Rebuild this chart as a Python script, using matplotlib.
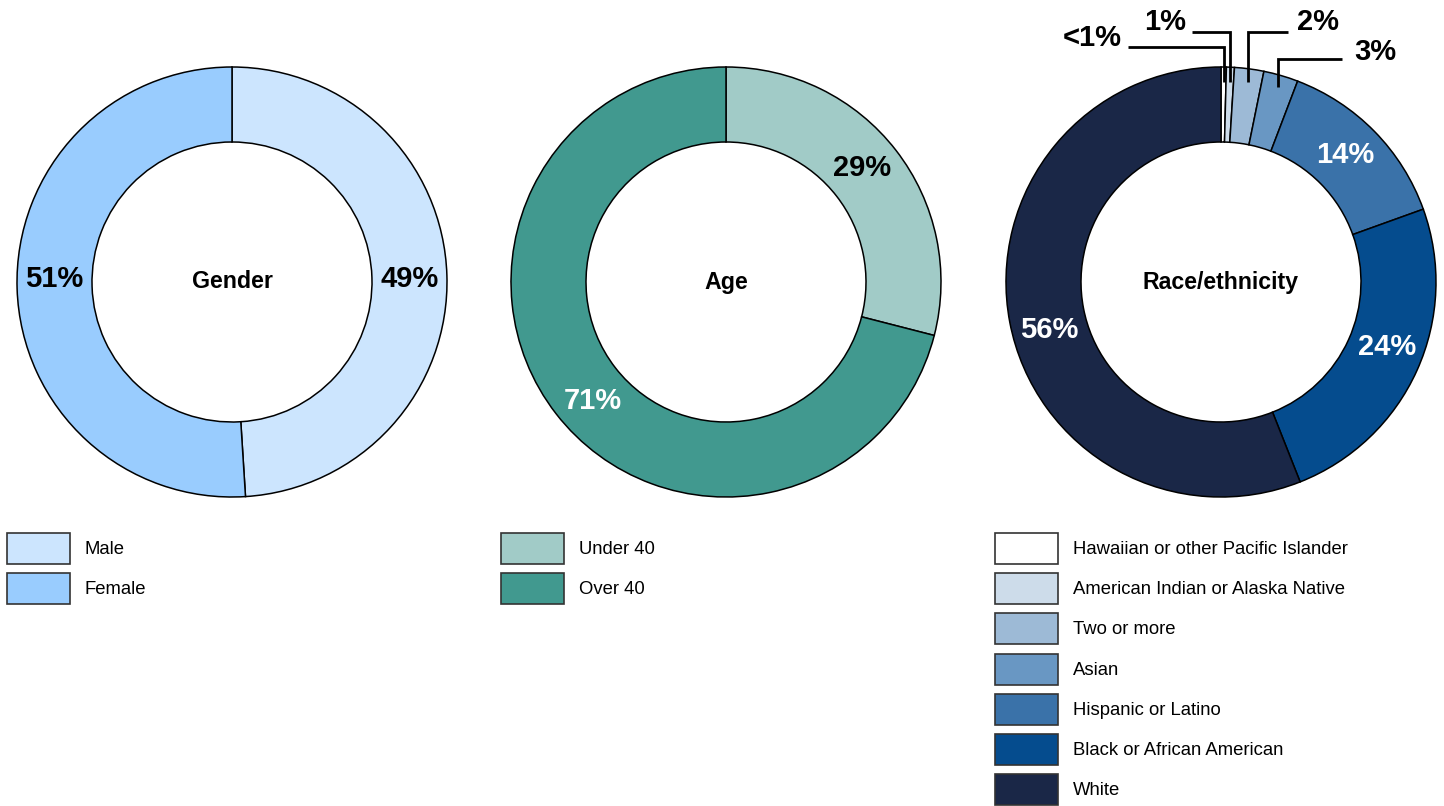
import numpy as np
import matplotlib
matplotlib.use("Agg")
import matplotlib.pyplot as plt
from matplotlib.patches import Rectangle

plt.rcParams['font.family'] = ['Liberation Sans', 'DejaVu Sans']

# ---- data ----
gender_labels = ["Male", "Female"]
gender_values = [49, 51]
gender_text = ["49%", "51%"]
gender_colors = ["#CCE5FE", "#99CCFE"]
gender_txtcol = ["black", "black"]

age_labels = ["Under 40", "Over 40"]
age_values = [29, 71]
age_text = ["29%", "71%"]
age_colors = ["#A1CBC7", "#41998F"]
age_txtcol = ["black", "white"]

race_labels = ["Hawaiian or other Pacific Islander", "American Indian or Alaska Native",
               "Two or more", "Asian", "Hispanic or Latino",
               "Black or African American", "White"]
race_values = [0.4, 0.6, 2.2, 2.6, 13.7, 24.5, 56.0]
race_text = ["<1%", "1%", "2%", "3%", "14%", "24%", "56%"]
race_colors = ["#FFFFFF", "#CDDCEA", "#9DBAD6", "#6997C3", "#3A72A9", "#054C8E", "#1A2747"]
race_txtcol = ["black", "black", "black", "black", "white", "white", "white"]

H = 806
W = 1444
fig = plt.figure(figsize=(14.44, 8.06), dpi=100)
ax = fig.add_axes([0, 0, 1, 1])

R_OUT = 215
R_IN = 140
CY = 282
PCT_FS = 21


def donut(cx, values, colors, title):
    ax.pie(values, colors=colors, startangle=90, counterclock=False,
           center=(cx, H - CY), radius=R_OUT, normalize=True,
           wedgeprops=dict(width=R_OUT - R_IN, edgecolor='black', linewidth=1.1))
    ax.text(cx, H - CY, title, ha='center', va='center', fontsize=16.7,
            fontweight='bold', color='black')
    tot = float(np.sum(values))
    cum = np.cumsum([0] + list(values)) / tot
    return cum


def pos(cx, frac, r):
    ang = 2 * np.pi * frac
    return cx + r * np.sin(ang), H - CY + r * np.cos(ang)


def labels(cx, cum, texts, tcols, idx, rmid=178, shifts=None):
    for i in idx:
        f = (cum[i] + cum[i + 1]) / 2
        if shifts and i in shifts:
            f += shifts[i]
        x, y = pos(cx, f, rmid)
        ax.text(x, y, texts[i], ha='center', va='center', fontsize=PCT_FS,
                fontweight='bold', color=tcols[i])


# Gender
cx_g = 232
cum = donut(cx_g, gender_values, gender_colors, "Gender")
labels(cx_g, cum, gender_text, gender_txtcol, [0, 1], shifts={0: 0.002, 1: 0.008})

# Age
cx_a = 726
cum = donut(cx_a, age_values, age_colors, "Age")
labels(cx_a, cum, age_text, age_txtcol, [0, 1], shifts={0: -0.006, 1: -0.011})

# Race
cx_r = 1221
cum = donut(cx_r, race_values, race_colors, "Race/ethnicity")
labels(cx_r, cum, race_text, race_txtcol, [4, 5, 6],
       shifts={4: -0.003, 5: -0.008, 6: -0.013})

# leader lines for small race slices
leaders = [
    (47, 1128, 82),
    (32, 1192, 82),
    (32, 1288, 82),
    (59, 1342, 87),
]
text_pos = [(1092, 38), (1165, 22), (1318, 22), (1375, 52)]
for i, (ly, lx, ybot) in enumerate(leaders):
    f = (cum[i] + cum[i + 1]) / 2
    xs, _ = pos(cx_r, f, R_OUT - 12)
    ax.plot([lx, xs, xs], [H - ly, H - ly, H - ybot], color='black', lw=2,
            solid_capstyle='butt', solid_joinstyle='miter')
    tx, ty = text_pos[i]
    ax.text(tx, H - ty, race_text[i], ha='center', va='center', fontsize=PCT_FS,
            fontweight='bold', color='black')


# legends
def legend(x0, names, colors, y0=533, step=40.2, w=63, h=31):
    for k, (n, c) in enumerate(zip(names, colors)):
        y = y0 + k * step
        ax.add_patch(Rectangle((x0, H - y - h), w, h, facecolor=c,
                               edgecolor='#333333', lw=1.2))
        ax.text(x0 + w + 15, H - y - h / 2 - 1, n, ha='left', va='center',
                fontsize=13.3, color='black')


legend(7, gender_labels, gender_colors)
legend(501, age_labels, age_colors)
legend(995, race_labels, race_colors)

ax.set_xlim(0, W)
ax.set_ylim(0, H)
ax.set_aspect('auto')
ax.axis('off')

fig.savefig("out.png", dpi=100, facecolor='white')
